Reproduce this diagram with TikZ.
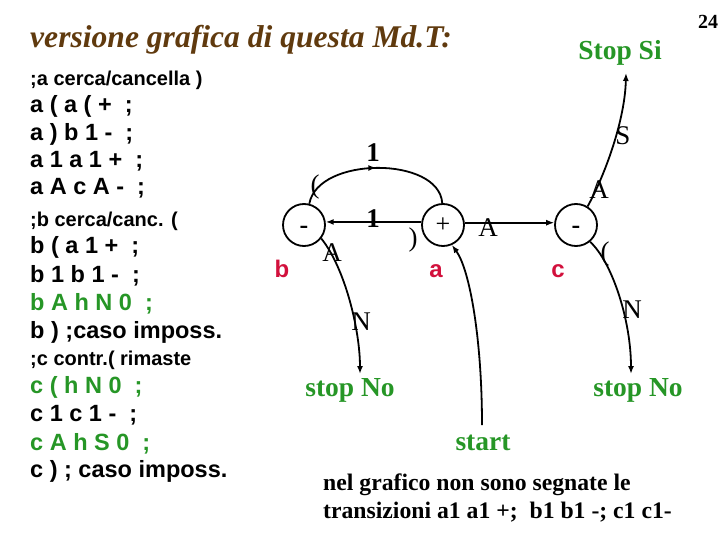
\documentclass[tikz,border=0pt]{standalone}
\usepackage{fontspec}
\setmainfont{Liberation Serif}
\newfontfamily\arial{Liberation Sans}
\usetikzlibrary{arrows.meta,decorations.markings}
\definecolor{grn}{RGB}{38,150,38}
\definecolor{brn}{RGB}{96,58,14}
\definecolor{crim}{RGB}{210,16,60}
\newcommand{\lowdash}{\smash{\raisebox{-9pt}{\bfseries -}}}
\begin{document}
\begin{tikzpicture}[x=1pt,y=-1pt,
  st/.style={circle,draw,line width=1.8pt,minimum size=42pt,inner sep=0pt,font=\fontsize{26}{26}\selectfont},
  lbl/.style={inner sep=0pt,font=\fontsize{27}{27}\selectfont},
  one/.style={inner sep=0pt,font=\bfseries\fontsize{27}{27}\selectfont},
  edge/.style={line width=1.8pt,-{Latex[length=8pt,width=6pt]}},
  midarr/.style={line width=1.8pt,postaction={decorate},decoration={markings,mark=at position 0.5 with {\arrow{Latex[length=8pt,width=6pt]}}}},
  ltxt/.style={anchor=base west,inner sep=0pt,font=\arial\bfseries\fontsize{23.5}{23.5}\selectfont},
  stxt/.style={anchor=base west,inner sep=0pt,font=\arial\bfseries\fontsize{20}{20}\selectfont},
  stoptxt/.style={anchor=base,inner sep=0pt,text=grn,font=\bfseries\fontsize{27.5}{27.5}\selectfont},
  redl/.style={inner sep=0pt,text=crim,font=\arial\bfseries\fontsize{24}{24}\selectfont},
  note/.style={anchor=base west,inner sep=0pt,font=\bfseries\fontsize{23.7}{23.7}\selectfont}
]
\useasboundingbox (0,0) rectangle (720,540);

% title and page number
\node[anchor=base west,inner sep=0pt,text=brn,font=\bfseries\itshape\fontsize{31.6}{31.6}\selectfont] (title) at (30,48) {versione grafica di questa Md.T:};
\node[inner sep=0pt,font=\bfseries\fontsize{20}{20}\selectfont] (pg) at (708,22) {24};

% left program text
\node[stxt] (l1) at (30,86) {;a cerca/cancella )};
\node[ltxt] (l2) at (30,113) {a ( a ( +\ \ ;};
\node[ltxt] (l3) at (30,141) {a ) b 1 - \ ;};
\node[ltxt] (l4) at (30,168) {a 1 a 1 +\ \ ;};
\node[ltxt] (l5) at (30,195) {a A c A - \ ;};
\node[stxt] (l6) at (30,226) {;b cerca/canc. (};
\node[ltxt] (l7) at (30,254) {b ( a 1 +\ \ ;};
\node[ltxt] (l8) at (30,282) {b 1 b 1 - \ ;};
\node[ltxt,text=grn] (l9) at (30,310) {b A h N 0 \ ;};
\node[ltxt] (l10) at (30,338) {b ) ;caso imposs.};
\node[stxt] (l11) at (30,365) {;c contr.( rimaste};
\node[ltxt,text=grn] (l12) at (30,393) {c ( h N 0 \ ;};
\node[ltxt] (l13) at (30,421) {c 1 c 1 - \ ;};
\node[ltxt,text=grn] (l14) at (30,450) {c A h S 0 \ ;};
\node[ltxt] (l15) at (30,477) {c ) ; caso imposs.};

% states
\node[st] (b) at (304,225) {\lowdash};
\node[st] (a) at (443,225) {+};
\node[st] (c) at (576,225) {\lowdash};
\node[redl] (lb) at (282,269) {b};
\node[redl] (la) at (436,271) {a};
\node[redl] (lc) at (558,271) {c};

% terminal texts
\node[stoptxt] (si) at (620,60) {Stop Si};
\node[stoptxt] (no1) at (350,396) {stop No};
\node[stoptxt] (no2) at (638,396) {stop No};
\node[stoptxt] (start) at (483,450) {start};
\coordinate (tsi) at (626,73);
\coordinate (tno1) at (360,374);
\coordinate (tno2) at (631,374);
\coordinate (s0) at (482,425);

% edges
\draw[edge] (a.172) -- (b.8);
\draw[edge] (a.6) -- (c.174);
\draw[midarr] (b.76) .. controls (318,156) and (439,156) .. (a.92);
\draw[edge] (b.-38) .. controls (345,268) and (360,330) .. (tno1);
\draw[edge] (c.58) .. controls (605,175) and (625,120) .. (tsi);
\draw[edge] (c.-50) .. controls (612,262) and (631,320) .. (tno2);
\draw[edge] (s0) .. controls (482,340) and (470,270) .. (a.-66);

% transition labels
\node[one] (e1) at (373,153) {1};
\node[lbl] (e2) at (315,187) {(};
\node[one] (e3) at (373,219) {1};
\node[lbl] (e4) at (413,240) {)};
\node[lbl] (e5) at (332,253) {A};
\node[lbl] (e6) at (361,322) {N};
\node[lbl] (e7) at (488,228) {A};
\node[lbl] (e8) at (599,190) {A};
\node[lbl] (e9) at (623,136) {S};
\node[lbl] (e10) at (605,254) {(};
\node[lbl] (e11) at (632,310) {N};

% note
\node[note] (n1) at (323,490) {nel grafico non sono segnate le};
\node[note] (n2) at (323,518) {transizioni a1 a1 +;\ \ b1 b1 -; c1 c1-};
\end{tikzpicture}
\end{document}
